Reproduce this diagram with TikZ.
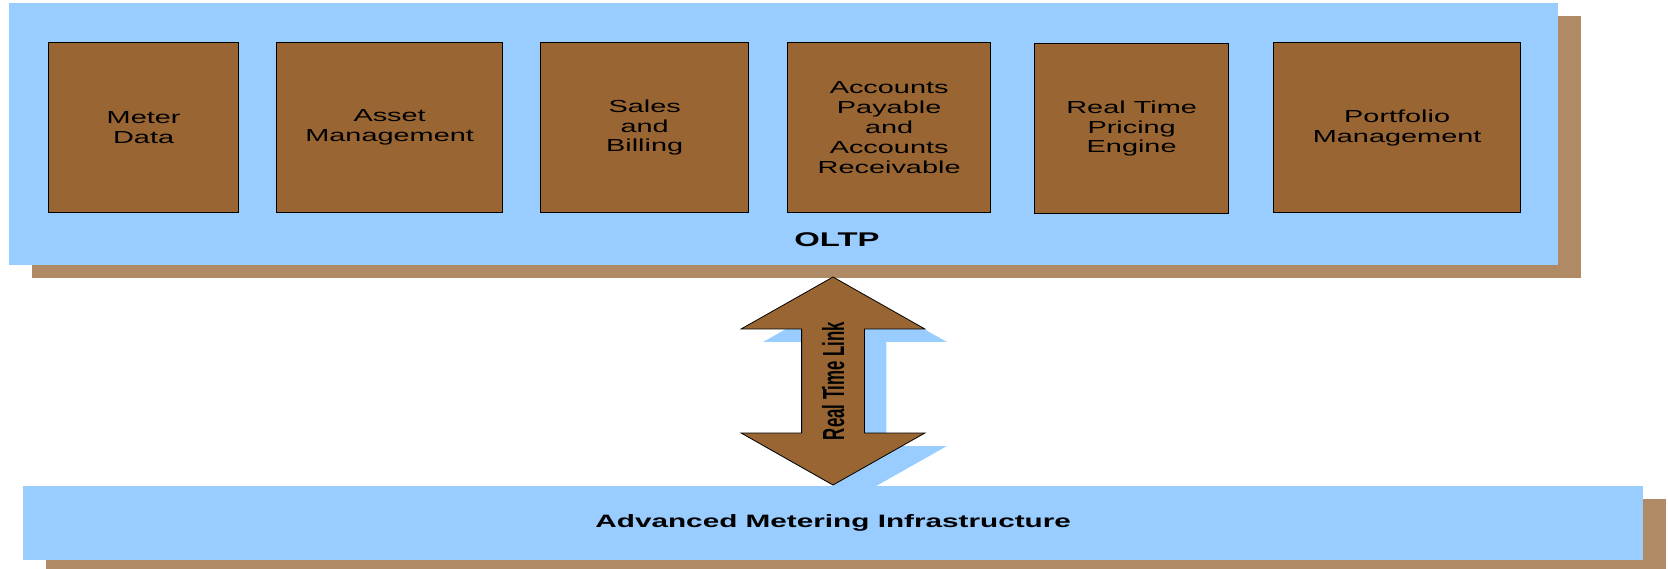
\documentclass[tikz,border=0pt]{standalone}
\usepackage{fontspec}
\setmainfont{Liberation Sans}
\newfontfamily\widefont[FakeStretch=1.66]{Liberation Sans}
\newfontfamily\narrowfont[FakeStretch=0.55]{Liberation Sans}
\usetikzlibrary{shapes.arrows,shadows}

\definecolor{panelBlue}{RGB}{153,204,255}
\definecolor{shadowBrown}{RGB}{176,138,100}
\definecolor{boxBrown}{RGB}{153,102,51}

\begin{document}
\begin{tikzpicture}[
  x=1pt, y=-1pt,
  % --- node styles ---
  panel/.style={rectangle, fill=panelBlue, anchor=north west, inner sep=0pt,
                drop shadow={shadow xshift=23pt, shadow yshift=-13pt,
                             fill=shadowBrown, opacity=1}},
  app/.style={rectangle, draw=black, line width=1.3pt, fill=boxBrown,
              anchor=north west, align=center, inner sep=0pt,
              minimum height=170,
              font=\widefont\fontsize{17.4}{19.8}\selectfont},
  lbl/.style={font=\widefont\bfseries\fontsize{#1}{22}\selectfont},
  lbl/.default=19.8,
  link/.style={double arrow, draw=black, line width=0.8pt, fill=boxBrown,
               rotate=90, minimum height=208, double arrow tip angle=121,
               double arrow head extend=60.5pt,
               text height=22pt, text depth=0pt, inner ysep=20pt,
               font=\narrowfont\bfseries\fontsize{30.5}{31}\selectfont,
               drop shadow={shadow xshift=22pt, shadow yshift=-13pt,
                            fill=panelBlue, opacity=1}},
]
  \useasboundingbox (0,0) rectangle (1668,569);

  % --- OLTP panel ---
  \node[panel, minimum width=1549, minimum height=262] (oltp) at (9,3) {};
  \node[lbl] (oltplbl) at (837,240) {OLTP};

  % --- OLTP applications ---
  \node[app, minimum width=190] (meter)     at (48,42)   {Meter\\Data};
  \node[app, minimum width=226] (asset)     at (276,42)  {Asset\\Management};
  \node[app, minimum width=208] (sales)     at (540,42)  {Sales\\and\\Billing};
  \node[app, minimum width=203] (accounts)  at (787,42)  {Accounts\\Payable\\and\\Accounts\\Receivable};
  \node[app, minimum width=194] (pricing)   at (1034,43) {Real Time\\Pricing\\Engine};
  \node[app, minimum width=247] (portfolio) at (1273,42) {Portfolio\\Management};

  % --- AMI panel ---
  \node[panel, lbl=17.9, minimum width=1620, minimum height=74] (ami)
    at (23,486) {Advanced Metering Infrastructure};

  % --- Real time link ---
  \node[link] (link) at (833,381) {Real Time Link};
\end{tikzpicture}
\end{document}
